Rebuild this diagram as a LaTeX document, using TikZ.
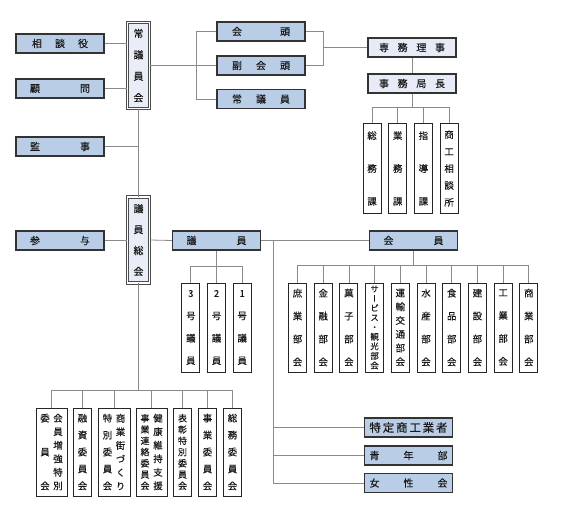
\documentclass[tikz,border=0pt]{standalone}
\usepackage{fontspec}
\setmainfont{Noto Sans CJK JP}[FakeBold=0.25]
\newfontfamily\vfont[RawFeature=+vert, FakeBold=0.25]{Noto Sans CJK JP}
\usetikzlibrary{positioning}
\definecolor{hdrblue}{HTML}{B9CDE6}
\definecolor{paleblue}{HTML}{E6EBF7}
\definecolor{councilfill}{HTML}{E9EDF7}
\definecolor{lgray}{HTML}{8A8A8A}
\newcommand\spread[2]{\makebox[#1][s]{#2}}
\newcommand\vcol[3][9.5]{\begin{minipage}[c]{12bp}\centering\vfont\fontsize{#1}{#2}\selectfont #3\end{minipage}}
\tikzstyle{line} = [draw=lgray, line width=0.8bp]
\tikzstyle{bluebox} = [rectangle, draw=black!80, line width=1.3bp, fill=hdrblue, text=black!90, minimum width=88bp, minimum height=19bp, inner sep=0pt, font=\fontsize{10}{12}\selectfont]
\tikzstyle{palebox} = [bluebox, fill=paleblue]
\tikzstyle{vbox} = [rectangle, draw=black!85, line width=1bp, fill=white, text=black!90, minimum width=18bp, minimum height=89bp, inner sep=0pt]
\tikzstyle{council} = [rectangle, draw=black!70, line width=0.9bp, double=white, double distance=1.3bp, fill=councilfill, text=black!90, minimum width=22bp, minimum height=86bp, inner sep=0pt]

\begin{document}
\begin{tikzpicture}[x=1bp, y=-1bp, node distance=25.7bp]
		\useasboundingbox (0,0) rectangle (576,527);
		\node (soudan) [bluebox] at (60,43.5) {\spread{56bp}{相\hfill 談\hfill 役}};
		\node (komon) [bluebox] at (60,88.5) {\spread{60bp}{顧\hfill 問}};
		\node (kanji) [bluebox] at (60,146.5) {\spread{60bp}{監\hfill 事}};
		\node (sanyo) [bluebox] at (60,240.5) {\spread{60bp}{参\hfill 与}};
		\node (jougiinkai) [council] at (138.5,65.5) {\vcol[10]{21.5}{常\\議\\員\\会}};
		\node (giinsoukai) [council] at (138.5,240) {\vcol[10]{21}{議\\員\\総\\会}};
		\draw [line] (soudan.east) -- (soudan.east -| jougiinkai.west);
		\draw [line] (komon.east) -- (komon.east -| jougiinkai.west);
		\draw [line] (jougiinkai.south) -- (giinsoukai.north);
		\draw [line] (kanji.east) -- (kanji.east -| jougiinkai.south);
		\draw [line] (sanyo.east) -- (sanyo.east -| giinsoukai.west);

		\node (kaitou) [bluebox] at (261,31.5) {\spread{58bp}{会\hfill 頭}};
		\node (fukukaitou) [bluebox] at (261,65.5) {\spread{58bp}{副\hfill 会\hfill 頭}};
		\node (jougiin) [bluebox] at (261,99) {\spread{58bp}{常\hfill 議\hfill 員}};
		\coordinate (lbar) at (196,0);
		\coordinate (rbar) at (323,0);
		\draw [line] (jougiinkai.east) -- (fukukaitou.west);
		\draw [line] (kaitou.west) -- (kaitou.west -| lbar) |- (jougiin.west);
		\draw [line] (kaitou.east) -- (kaitou.east -| rbar) |- (fukukaitou.east);

		\node (senmu) [palebox] at (412,47.5) {\spread{66bp}{専\hfill 務\hfill 理\hfill 事}};
		\node (kyokuchou) [palebox] at (412,83.5) {\spread{66bp}{事\hfill 務\hfill 局\hfill 長}};
		\draw [line] (senmu.west) -- (senmu.west -| rbar);
		\draw [line] (senmu) -- (kyokuchou);
		\node (soumuka) [vbox] at (372,168.5) {\vcol{33}{総\\務\\課}};
		\node (gyoumuka) [vbox, right of=soumuka] {\vcol{33}{業\\務\\課}};
		\node (shidouka) [vbox, right of=gyoumuka] {\vcol{33}{指\\導\\課}};
		\node (soudansho) [vbox, right of=shidouka] {\vcol{17}{商\\工\\相\\談\\所}};
		\coordinate (sbar) at (0,107);
		\draw [line] (kyokuchou.south) -- (kyokuchou.south |- sbar);
		\draw [line] (soumuka.north) |- (soudansho.north |- sbar) -- (soudansho.north);
		\draw [line] (gyoumuka.north) -- (gyoumuka.north |- sbar);
		\draw [line] (shidouka.north) -- (shidouka.north |- sbar);

		\node (giin) [bluebox] at (216.5,240.5) {\spread{60bp}{議\hfill 員}};
		\draw [line] (giinsoukai.east) -- (giin.west);
		\node (gou2) [vbox] at (216.5,327.5) {\vcol{22.5}{2\\号\\議\\員}};
		\node (gou3) [vbox, left of=gou2] {\vcol{22.5}{3\\号\\議\\員}};
		\node (gou1) [vbox, right of=gou2] {\vcol{22.5}{1\\号\\議\\員}};
		\coordinate (gbar) at (0,266);
		\draw [line] (giin) -- (gou2);
		\draw [line] (gou3.north) |- (gou1.north |- gbar) -- (gou1.north);

		\node (kaiin) [bluebox] at (413.5,240.5) {\spread{60bp}{会\hfill 員}};
		\draw [line] (giin.east) -- (kaiin.west);
		\node (shogyo) [vbox] at (297.5,327.5) {\vcol{23}{庶\\業\\部\\会}};
		\node (kinyu) [vbox, right of=shogyo] {\vcol{23}{金\\融\\部\\会}};
		\node (kashi) [vbox, right of=kinyu] {\vcol{23}{菓\\子\\部\\会}};
		\node (service) [vbox, right of=kashi] {\vcol[8.5]{9.6}{サ\\ー\\ビ\\ス\\・\\観\\光\\部\\会}};
		\node (unyu) [vbox, right of=service] {\vcol{13.8}{運\\輸\\交\\通\\部\\会}};
		\node (suisan) [vbox, right of=unyu] {\vcol{23}{水\\産\\部\\会}};
		\node (shokuhin) [vbox, right of=suisan] {\vcol{23}{食\\品\\部\\会}};
		\node (kensetsu) [vbox, right of=shokuhin] {\vcol{23}{建\\設\\部\\会}};
		\node (kougyou) [vbox, right of=kensetsu] {\vcol{23}{工\\業\\部\\会}};
		\node (shougyou) [vbox, right of=kougyou] {\vcol{23}{商\\業\\部\\会}};
		\coordinate (bbar) at (0,265);
		\draw [line] (kaiin.south) -- (kaiin.south |- bbar);
		\draw [line] (shogyo.north) |- (shougyou.north |- bbar) -- (shougyou.north);
		\draw [line] (kinyu.north) -- (kinyu.north |- bbar);
		\draw [line] (kashi.north) -- (kashi.north |- bbar);
		\draw [line] (service.north) -- (service.north |- bbar);
		\draw [line] (unyu.north) -- (unyu.north |- bbar);
		\draw [line] (suisan.north) -- (suisan.north |- bbar);
		\draw [line] (shokuhin.north) -- (shokuhin.north |- bbar);
		\draw [line] (kensetsu.north) -- (kensetsu.north |- bbar);
		\draw [line] (kougyou.north) -- (kougyou.north |- bbar);

		\node (tokutei) [bluebox, font=\fontsize{11.5}{13}\selectfont] at (408.5,427.5) {\spread{78bp}{特\hfill 定\hfill 商\hfill 工\hfill 業\hfill 者}};
		\node (seinen) [bluebox] at (408.5,455.5) {\spread{78bp}{青\hfill 年\hfill 部}};
		\node (josei) [bluebox] at (408.5,483) {\spread{78bp}{女\hfill 性\hfill 会}};
		\coordinate (trunk) at (273,0);
		\draw [line] (giin.east -| trunk) |- (josei.west);
		\draw [line] (tokutei.west) -- (tokutei.west -| trunk);
		\draw [line] (seinen.west) -- (seinen.west -| trunk);

		\node (zoukyou) [vbox, minimum width=31bp, minimum height=88bp] at (51.5,452) {\vcol{34}{委\\員\\会}\hspace{1bp}\vcol{13.6}{会\\員\\増\\強\\特\\別}};
		\node (yushi) [vbox, minimum height=88bp] at (82.5,452) {\vcol{17}{融\\資\\委\\員\\会}};
		\node (machi) [vbox, minimum width=32bp, minimum height=88bp] at (114,452) {\vcol{17}{特\\別\\委\\員\\会}\hspace{1bp}\vcol{13.6}{商\\業\\街\\づ\\く\\り}};
		\node (kenkou) [vbox, minimum width=31bp, minimum height=88bp] at (151.5,452) {\vcol[9]{11.3}{事\\業\\連\\絡\\委\\員\\会}\hspace{1bp}\vcol{13.6}{健\\康\\維\\持\\支\\援}};
		\node (hyoushou) [vbox, minimum height=88bp] at (182.5,452) {\vcol[9]{11.3}{表\\彰\\特\\別\\委\\員\\会}};
		\node (jigyou) [vbox, minimum height=88bp] at (207.5,452) {\vcol{17}{事\\業\\委\\員\\会}};
		\node (soumu) [vbox, minimum height=88bp] at (232.5,452) {\vcol{17}{総\\務\\委\\員\\会}};
		\coordinate (cbar) at (0,390);
		\draw [line] (giinsoukai.south) -- (giinsoukai.south |- cbar);
		\draw [line] (zoukyou.north) |- (soumu.north |- cbar) -- (soumu.north);
		\draw [line] (yushi.north) -- (yushi.north |- cbar);
		\draw [line] (machi.north) -- (machi.north |- cbar);
		\draw [line] (kenkou.north) -- (kenkou.north |- cbar);
		\draw [line] (hyoushou.north) -- (hyoushou.north |- cbar);
		\draw [line] (jigyou.north) -- (jigyou.north |- cbar);
\end{tikzpicture}
\end{document}
